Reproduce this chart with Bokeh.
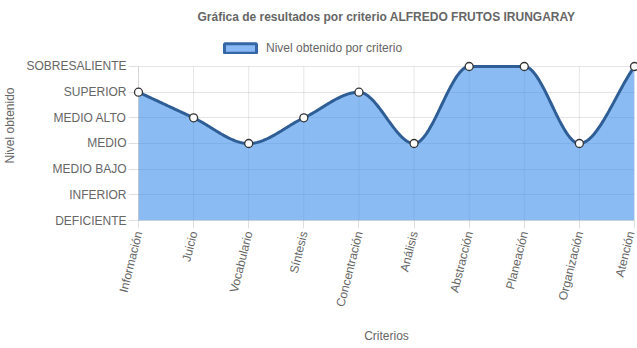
import numpy as np
from bokeh.plotting import figure
from bokeh.models import (FixedTicker, Legend, LegendItem, ColumnDataSource)
from bokeh.embed import file_html
from bokeh.resources import INLINE

# ---- data ----
criterios = ["Información", "Juicio", "Vocabulario", "Síntesis", "Concentración",
             "Análisis", "Abstracción", "Planeación", "Organización", "Atención"]
niveles = ["DEFICIENTE", "INFERIOR", "MEDIO BAJO", "MEDIO", "MEDIO ALTO",
           "SUPERIOR", "SOBRESALIENTE"]
valores = [5, 4, 3, 4, 5, 3, 6, 6, 3, 6]

FONT = "Liberation Sans"
GRAY = "#666666"
LINE_C = "#2e5e95"
FILL_C = "#368cea"

x = np.arange(len(criterios), dtype=float)
y = np.array(valores, dtype=float)
ymax = len(niveles) - 1

# monotone cubic curve (same rule Chart.js uses for cubicInterpolationMode 'monotone')
n = len(x)
dk = np.zeros(n)
for i in range(n - 1):
    dk[i] = (y[i + 1] - y[i]) / (x[i + 1] - x[i])
mk = np.zeros(n)
for i in range(n):
    if i == 0:
        mk[i] = dk[0]
    elif i == n - 1:
        mk[i] = dk[i - 1]
    elif np.sign(dk[i - 1]) != np.sign(dk[i]):
        mk[i] = 0
    else:
        mk[i] = (dk[i - 1] + dk[i]) / 2
for i in range(n - 1):
    if abs(dk[i]) < 1e-9:
        mk[i] = mk[i + 1] = 0
        continue
    a = mk[i] / dk[i]
    b = mk[i + 1] / dk[i]
    s = a * a + b * b
    if s <= 9:
        continue
    t = 3 / np.sqrt(s)
    mk[i] = a * t * dk[i]
    mk[i + 1] = b * t * dk[i]

cx, cy = [], []
tt = np.linspace(0, 1, 40)
for i in range(n - 1):
    d = (x[i + 1] - x[i]) / 3
    p0 = (x[i], y[i]); p1 = (x[i] + d, y[i] + d * mk[i])
    p2 = (x[i + 1] - d, y[i + 1] - d * mk[i + 1]); p3 = (x[i + 1], y[i + 1])
    bx = ((1 - tt) ** 3) * p0[0] + 3 * ((1 - tt) ** 2) * tt * p1[0] + 3 * (1 - tt) * tt ** 2 * p2[0] + tt ** 3 * p3[0]
    by = ((1 - tt) ** 3) * p0[1] + 3 * ((1 - tt) ** 2) * tt * p1[1] + 3 * (1 - tt) * tt ** 2 * p2[1] + tt ** 3 * p3[1]
    by = np.clip(by, 0, ymax)
    if i > 0:
        bx, by = bx[1:], by[1:]
    cx.extend(bx.tolist()); cy.extend(by.tolist())

# extra headroom above the top level leaves room for the legend inside the frame
p = figure(width=637, height=345, output_backend="svg", toolbar_location=None,
           x_range=(0, len(criterios) - 1), y_range=(0, ymax + 1.4025),
           min_border_left=4, min_border_right=3, min_border_top=0, min_border_bottom=4)
p.outline_line_color = None
p.background_fill_color = "white"
p.border_fill_color = "white"

p.title.text = "Gráfica de resultados por criterio ALFREDO FRUTOS IRUNGARAY"
p.title.align = "center"
p.title.text_font = FONT
p.title.text_font_size = "12px"
p.title.text_font_style = "bold"
p.title.text_color = GRAY
p.title.standoff = 14

p.xaxis.ticker = FixedTicker(ticks=list(range(len(criterios))))
p.xaxis.major_label_overrides = {i: c for i, c in enumerate(criterios)}
p.xaxis.major_label_orientation = np.deg2rad(76)
p.yaxis.ticker = FixedTicker(ticks=list(range(len(niveles))))
p.yaxis.major_label_overrides = {i: c for i, c in enumerate(niveles)}
p.yaxis.bounds = (0, ymax)

for ax in (p.xaxis[0], p.yaxis[0]):
    ax.major_label_text_font = FONT
    ax.major_label_text_font_size = "12px"
    ax.major_label_text_color = GRAY
    ax.axis_label_text_font = FONT
    ax.axis_label_text_font_size = "12px"
    ax.axis_label_text_font_style = "normal"
    ax.axis_label_text_color = GRAY
    ax.axis_line_color = "black"
    ax.axis_line_alpha = 0.12
    ax.major_tick_line_color = "black"
    ax.major_tick_line_alpha = 0.12
    ax.minor_tick_line_color = None
    ax.major_tick_in = 0

p.xaxis.axis_label = "Criterios"
p.yaxis.axis_label = "Nivel obtenido"
p.xaxis.major_tick_out = 8
p.yaxis.major_tick_out = 10
p.xaxis.major_label_standoff = 3
p.yaxis.major_label_standoff = 2
p.xaxis.axis_label_standoff = 16
p.yaxis.axis_label_standoff = 6

p.ygrid.grid_line_color = "black"
p.ygrid.grid_line_alpha = 0.1
p.xgrid.grid_line_color = None
# vertical grid lines limited to the level range
p.segment(x0=x, y0=[0] * n, x1=x, y1=[ymax] * n, line_color="black", line_alpha=0.1,
          line_width=1, level="underlay")

src = ColumnDataSource(dict(x=cx, y=cy, y0=[0] * len(cx)))
p.varea(x="x", y1="y0", y2="y", source=src, fill_color=FILL_C, fill_alpha=0.58)
p.line(x="x", y="y", source=src, line_color=LINE_C, line_width=3)
pts = p.scatter(x=x, y=y, size=8, fill_color="white", line_color="#333333", line_width=1.3,
                level="overlay")

# legend swatch renderer (no visible mark of its own)
dummy = p.quad(left=[np.nan], right=[np.nan], top=[np.nan], bottom=[np.nan],
               fill_color="#8ab8f5", line_color="#3566a5", line_width=3)
legend = Legend(items=[LegendItem(label="Nivel obtenido por criterio", renderers=[dummy])],
                location=(82, 165), orientation="horizontal", glyph_width=40, glyph_height=12,
                label_text_font=FONT, label_text_font_size="12px", label_text_color=GRAY,
                label_height=12, padding=0, margin=0, spacing=0, label_standoff=6,
                border_line_color=None, background_fill_alpha=0)
p.add_layout(legend, "center")

open("out.html", "w").write(file_html(p, INLINE))
